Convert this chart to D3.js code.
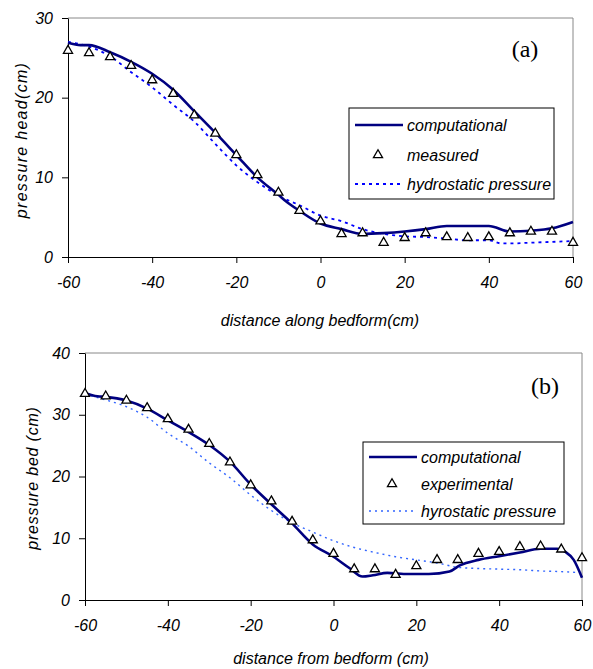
<!DOCTYPE html>
<html>
<head>
<meta charset="utf-8">
<script src="https://cdn.jsdelivr.net/npm/d3@7"></script>
<style>
    body { margin: 0; background: #fff; }
    text { font-family: "Liberation Sans", Arial, sans-serif; font-style: italic; }
</style>
</head>
<body>
<div id="chart"></div>
<script>
// ---- panel (a) ----
const compAX = [-60, -57, -55, -50, -45, -40, -35, -30, -25, -20, -15, -10, -8, -5, 0, 5, 10, 15, 20, 25, 30, 35, 40, 45, 50, 55, 60];
const compAY = [26.9, 26.6, 26.6, 25.7, 24.5, 23.0, 21.0, 18.3, 15.6, 12.8, 10.0, 7.8, 6.9, 5.8, 4.2, 3.5, 2.9, 3.0, 3.2, 3.5, 3.9, 3.9, 3.9, 3.2, 3.3, 3.6, 4.4];
const measAX = [-60, -55, -50, -45, -40, -35, -30, -25, -20, -15, -10, -5, 0, 5, 10, 15, 20, 25, 30, 35, 40, 45, 50, 55, 60];
const measAY = [25.9, 25.6, 25.1, 24.0, 22.2, 20.5, 17.8, 15.5, 12.8, 10.3, 8.1, 5.8, 4.5, 2.9, 3.0, 1.8, 2.4, 3.0, 2.5, 2.4, 2.5, 3.0, 3.2, 3.2, 1.8];
const hydAX = [-60, -55, -50, -45, -40, -35, -30, -25, -20, -15, -10, -5, 0, 5, 10, 15, 20, 25, 30, 35, 40, 43, 45, 50, 55, 60];
const hydAY = [27.0, 26.4, 25.2, 23.2, 21.3, 19.1, 17.0, 14.2, 11.5, 9.4, 7.7, 6.5, 5.2, 4.5, 3.5, 2.9, 2.6, 2.5, 2.3, 2.1, 2.1, 1.7, 1.7, 1.8, 1.9, 2.0];

// ---- panel (b) ----
const compBX = [-60, -57, -55, -50, -45, -40, -35, -30, -25, -20, -15, -10, -5, 0, 4, 7, 9.5, 13, 18, 23, 28, 30.5, 35, 40, 45, 50, 54, 56, 58, 60];
const compBY = [33.5, 33.0, 32.9, 32.3, 31.0, 29.1, 27.2, 25.1, 22.4, 18.7, 15.5, 12.4, 9.0, 7.0, 5.1, 3.8, 4.0, 4.4, 4.2, 4.2, 4.6, 5.6, 6.5, 7.1, 7.7, 8.3, 8.3, 7.8, 6.5, 3.6];
const expBX = [-60, -55, -50, -45, -40, -35, -30, -25, -20, -15, -10, -5, 0, 5, 10, 15, 20, 25, 30, 35, 40, 45, 50, 55, 60];
const expBY = [33.4, 33.0, 32.3, 31.1, 29.3, 27.6, 25.3, 22.3, 18.6, 16.0, 12.7, 9.7, 7.5, 5.0, 5.0, 4.1, 5.5, 6.5, 6.5, 7.5, 7.8, 8.6, 8.7, 8.2, 6.8];
const hydBX = [-60, -55, -50, -45, -40, -35, -30, -25, -20, -15, -10, -5, 0, 5, 10, 15, 20, 25, 30, 35, 40, 45, 50, 55, 60];
const hydBY = [33.3, 32.4, 31.3, 29.6, 27.0, 24.9, 22.2, 19.8, 17.0, 14.5, 12.5, 11.0, 9.6, 8.5, 7.7, 7.0, 6.5, 6.0, 5.3, 5.1, 5.0, 4.9, 4.7, 4.6, 4.4];

const xTicks = [-60, -40, -20, 0, 20, 40, 60];
const yTicksA = [0, 10, 20, 30];
const yTicksB = [0, 10, 20, 30, 40];

const zip = (xs, ys) => xs.map((x, i) => [x, ys[i]]);

const svg = d3.select("#chart").append("svg")
    .attr("width", 593)
    .attr("height", 669);

function panel(cfg) {
    const x = d3.scaleLinear().domain([-60, 60]).range([cfg.left, cfg.right]);
    const y = d3.scaleLinear().domain([0, cfg.yMax]).range([cfg.bottom, cfg.top]);
    const g = svg.append("g");

    // gray frame on top / right
    g.append("path")
        .attr("d", `M${cfg.left},${cfg.top}H${cfg.right}V${cfg.bottom}`)
        .attr("fill", "none")
        .attr("stroke", "#888")
        .attr("stroke-width", 1);

    // plain hyphen for negatives, like the original
    const fmt = (d) => String(d);
    const xAxis = g.append("g")
        .attr("transform", `translate(0,${cfg.bottom})`)
        .call(d3.axisBottom(x).tickValues(xTicks).tickFormat(fmt).tickSize(6).tickSizeOuter(0).tickPadding(14));
    const yAxis = g.append("g")
        .attr("transform", `translate(${cfg.left},0)`)
        .call(d3.axisLeft(y).tickValues(cfg.yTicks).tickFormat(fmt).tickSize(6).tickSizeOuter(0).tickPadding(9));
    [xAxis, yAxis].forEach((a) => {
        a.select(".domain").attr("stroke", "#000");
        a.selectAll(".tick line").attr("stroke", "#000");
        a.selectAll(".tick text")
            .attr("fill", "#000")
            .style("font-size", "16px")
            .style("font-family", "'Liberation Sans', Arial, sans-serif")
            .style("font-style", "italic");
    });

    const line = d3.line()
        .x((d) => x(d[0]))
        .y((d) => y(d[1]))
        .curve(d3.curveMonotoneX);

    g.append("path")
        .datum(zip(cfg.hydX, cfg.hydY))
        .attr("d", line)
        .attr("fill", "none")
        .attr("stroke", cfg.hydColor)
        .attr("stroke-width", cfg.hydWidth)
        .attr("stroke-dasharray", cfg.hydDash);

    g.append("path")
        .datum(zip(cfg.compX, cfg.compY))
        .attr("d", line)
        .attr("fill", "none")
        .attr("stroke", "#000080")
        .attr("stroke-width", 2.6);

    const tri = d3.symbol().type(d3.symbolTriangle).size(36);
    g.selectAll("path.pt")
        .data(zip(cfg.ptX, cfg.ptY))
        .enter()
        .append("path")
        .attr("class", "pt")
        .attr("d", tri)
        .attr("transform", (d) => `translate(${x(d[0])},${y(d[1])})`)
        .attr("fill", "#fff")
        .attr("stroke", "#000")
        .attr("stroke-width", 1.3);

    // axis titles
    g.append("text")
        .attr("x", cfg.xTitleX)
        .attr("y", cfg.xTitleY)
        .attr("text-anchor", "middle")
        .style("font-size", "16px")
        .text(cfg.xTitle);
    g.append("text")
        .attr("transform", `translate(${cfg.yTitleX},${cfg.yTitleY}) rotate(-90)`)
        .attr("text-anchor", "middle")
        .style("font-size", "16px")
        .style("letter-spacing", cfg.yTitleSpacing)
        .text(cfg.yTitle);

    // panel label
    g.append("text")
        .attr("x", cfg.labelX)
        .attr("y", cfg.labelY)
        .attr("text-anchor", "middle")
        .style("font-family", "'Liberation Serif', 'Times New Roman', serif")
        .style("font-style", "normal")
        .style("font-size", "24px")
        .text(cfg.label);

    // legend
    const L = cfg.legend;
    g.append("rect")
        .attr("x", L.x).attr("y", L.y)
        .attr("width", L.w).attr("height", L.h)
        .attr("fill", "#fff")
        .attr("stroke", "#000")
        .attr("stroke-width", 1);
    g.append("line")
        .attr("x1", L.x + 6).attr("x2", L.x + 54)
        .attr("y1", L.rows[0]).attr("y2", L.rows[0])
        .attr("stroke", "#000080").attr("stroke-width", 2.6);
    g.append("path")
        .attr("d", tri)
        .attr("transform", `translate(${L.x + 29},${L.rows[1]})`)
        .attr("fill", "#fff").attr("stroke", "#000").attr("stroke-width", 1.3);
    g.append("line")
        .attr("x1", L.x + 6).attr("x2", L.x + 54)
        .attr("y1", L.rows[2]).attr("y2", L.rows[2])
        .attr("stroke", cfg.hydColor).attr("stroke-width", cfg.hydWidth)
        .attr("stroke-dasharray", cfg.hydDash);
    L.names.forEach((n, i) => {
        g.append("text")
            .attr("x", L.x + 58)
            .attr("y", L.rows[i])
            .attr("dy", "0.35em")
            .style("font-size", "16px")
            .text(n);
    });
}

panel({
    left: 68, right: 573, top: 18, bottom: 257, yMax: 30, yTicks: yTicksA,
    compX: compAX, compY: compAY, ptX: measAX, ptY: measAY, hydX: hydAX, hydY: hydAY,
    hydColor: "#0000ff", hydWidth: 1.8, hydDash: "3,4",
    xTitle: "distance along bedform(cm)", xTitleX: 320, xTitleY: 326,
    yTitle: "pressure head(cm)", yTitleX: 27, yTitleY: 140, yTitleSpacing: "1.3px",
    label: "(a)", labelX: 525, labelY: 57,
    legend: { x: 349, y: 108, w: 205, h: 91, rows: [125, 155, 184],
        names: ["computational", "measured", "hydrostatic pressure"] }
});

panel({
    left: 85, right: 582, top: 353, bottom: 600, yMax: 40, yTicks: yTicksB,
    compX: compBX, compY: compBY, ptX: expBX, ptY: expBY, hydX: hydBX, hydY: hydBY,
    hydColor: "#3366ff", hydWidth: 1.4, hydDash: "2,4",
    xTitle: "distance from bedform (cm)", xTitleX: 331, xTitleY: 664,
    yTitle: "pressure bed (cm)", yTitleX: 38, yTitleY: 478, yTitleSpacing: "0.8px",
    label: "(b)", labelX: 545, labelY: 394,
    legend: { x: 363, y: 442, w: 201, h: 82, rows: [457, 484, 511],
        names: ["computational", "experimental", "hyrostatic pressure"] }
});
</script>
</body>
</html>
